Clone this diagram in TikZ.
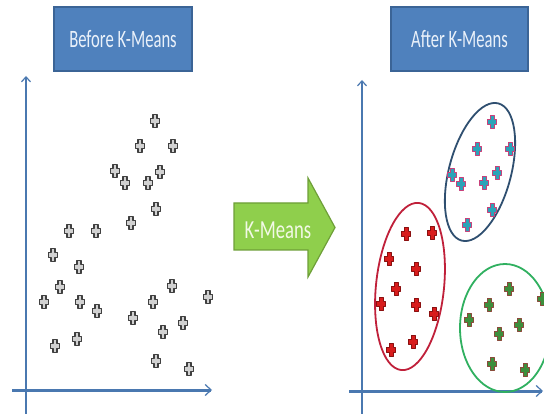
\documentclass[tikz,border=0pt]{standalone}
\usepackage{fontspec}
\setmainfont{Carlito}
\usepackage{graphicx}
\usetikzlibrary{arrows.meta}
\definecolor{titlefill}{HTML}{4F81BD}
\definecolor{titleedge}{HTML}{3B6496}
\definecolor{titletext}{HTML}{EAF1FA}
\definecolor{axisblue}{HTML}{4A78B0}
\definecolor{arrowfill}{HTML}{8FCF4C}
\definecolor{arrowedge}{HTML}{6E9F38}
\definecolor{arrowtext}{HTML}{F2F9E6}
\definecolor{redfill}{HTML}{D81C1C}
\definecolor{rededge}{HTML}{8B1010}
\definecolor{bluefill}{HTML}{2BA3B8}
\definecolor{blueedge}{HTML}{C8407A}
\definecolor{greenfill}{HTML}{3C8F3C}
\definecolor{greenedge}{HTML}{8A4A3A}
\definecolor{ellblue}{HTML}{2F4F70}
\definecolor{ellred}{HTML}{C0203A}
\definecolor{ellgreen}{HTML}{30B060}
\begin{document}
\begin{tikzpicture}[x=1pt,y=-1pt,
  pmark/.pic={\path[pic actions] (-2,-6.5) -- (2,-6.5) -- (2,-2.2) -- (4.5,-2.2) -- (4.5,2.2) -- (2,2.2) -- (2,6.5) -- (-2,6.5) -- (-2,2.2) -- (-4.5,2.2) -- (-4.5,-2.2) -- (-2,-2.2) -- cycle;},
  grayp/.style={draw=black!75, fill=black!18, line width=1.3pt, line join=round},
  redp/.style={draw=rededge, fill=redfill, line width=0.9pt, line join=round},
  bluep/.style={draw=blueedge, fill=bluefill, line width=1pt, line join=round},
  greenp/.style={draw=greenedge, fill=greenfill, line width=1pt, line join=round},
  titlebox/.style={draw=titleedge, fill=titlefill, line width=1.5pt, inner sep=0pt, text=titletext},
  yaxis/.style={draw=axisblue, line width=2pt, -{Straight Barb[length=5pt,width=9pt,line width=1.2pt]}},
  xaxis/.style={draw=axisblue, line width=3pt, -{Straight Barb[length=6pt,width=11pt,line width=1.2pt]}},
  clus/.style={line width=1.8pt}
]
\useasboundingbox (0,0) rectangle (544,414);
\fill[white] (0,0) rectangle (544,414);

% title boxes
\node[titlebox, minimum width=138pt, minimum height=64pt] (before) at (123,39)
  {\scalebox{0.665}[1]{\fontsize{25}{25}\selectfont Before K-Means}};
\node[titlebox, minimum width=137pt, minimum height=64pt] (after) at (459.5,39)
  {\scalebox{0.665}[1]{\fontsize{25}{25}\selectfont After K-Means}};

% left axes
\coordinate (ly0) at (26,414); \coordinate (ly1) at (26,76);
\coordinate (lx0) at (12,390); \coordinate (lx1) at (212,390);
\draw[yaxis] (ly0) -- (ly1);
\draw[xaxis] (lx0) -- (lx1);

% right axes
\coordinate (ry0) at (362,414); \coordinate (ry1) at (362,80);
\coordinate (rx0) at (349,391); \coordinate (rx1) at (543,391);
\draw[yaxis] (ry0) -- (ry1);
\draw[xaxis] (rx0) -- (rx1);

% left points
\foreach \x/\y in {155/121,140/146,173/146,115/171,125/183,148/183,160/172,156/209,131/223,
  69/231,96/231,53/255,79/267,60/287,44/302,80/302,97/311,55/346,77/339,
  133/318,153/302,172/286,208/297,183/323,163/332,156/361,189/369}
  \pic[grayp] at (\x,\y) {pmark};

% green arrow
\path[draw=arrowedge, fill=arrowfill, line width=1.2pt, line join=miter]
  (234,203) -- (308,203) -- (308,178) -- (335,227.5) -- (308,277) -- (308,250) -- (234,250) -- cycle;
\node[text=arrowtext, inner sep=0pt] (km) at (278,230)
  {\scalebox{0.72}[1]{\fontsize{26}{26}\selectfont K-Means}};

% clusters
\draw[clus, draw=ellblue] (480,172) ellipse [x radius=31, y radius=71, rotate=-15];
\draw[clus, draw=ellred] (410,286.5) ellipse [x radius=34, y radius=84, rotate=-6];
\draw[clus, draw=ellgreen] (505,328) ellipse [x radius=45, y radius=64];

\foreach \x/\y in {492/122,477/149,510/149,452/175,461/184,484/183,497/173,492/210,467/225}
  \pic[bluep] at (\x,\y) {pmark};
\foreach \x/\y in {406/234,432/233,389/259,416/269,396/289,381/304,416/305,434/314,391/350,413/342}
  \pic[redp] at (\x,\y) {pmark};
\foreach \x/\y in {469/320,489/305,509/289,542/299,519/325,499/334,492/364,525/370}
  \pic[greenp] at (\x,\y) {pmark};
\end{tikzpicture}
\end{document}
